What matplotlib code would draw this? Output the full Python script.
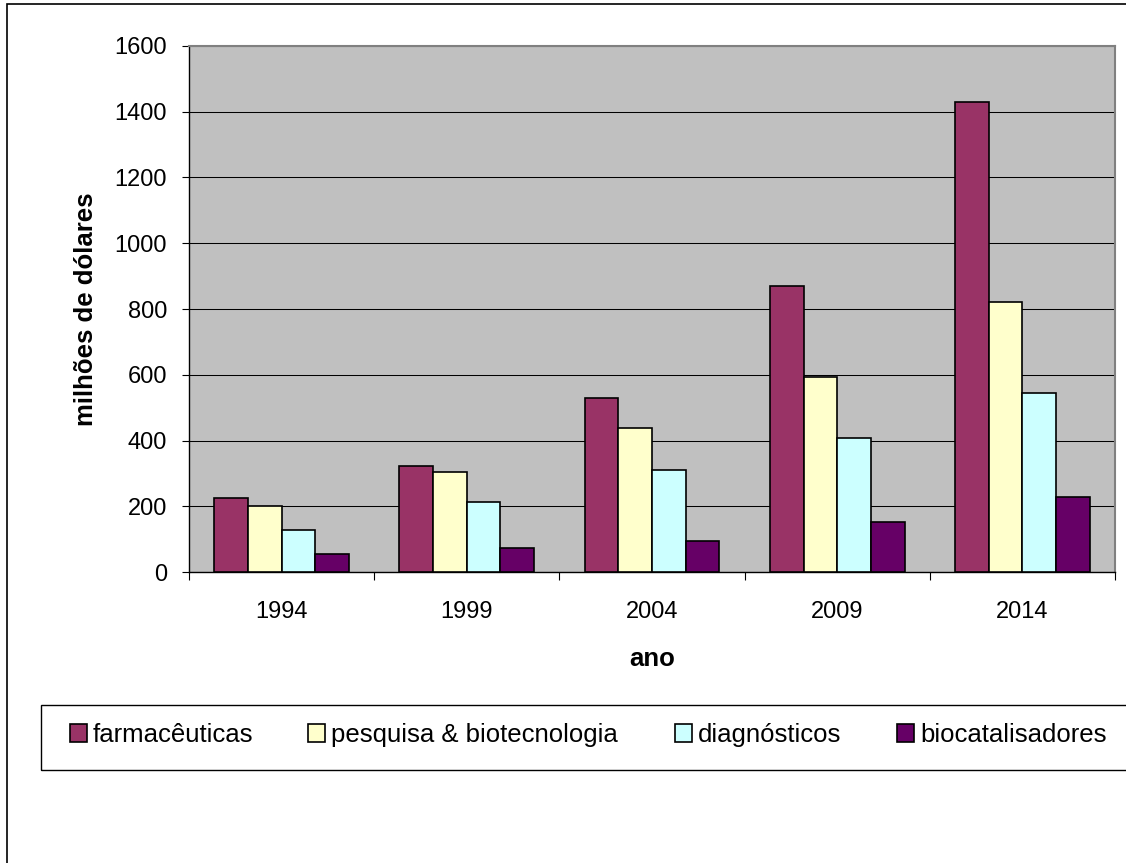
import matplotlib
matplotlib.use('Agg')
import matplotlib.pyplot as plt
from matplotlib.patches import Rectangle
import numpy as np

plt.rcParams['font.family'] = ['Liberation Sans', 'DejaVu Sans']

# ---- data ----
years = ['1994', '1999', '2004', '2009', '2014']
series_names = ['farmacêuticas', 'pesquisa & biotecnologia', 'diagnósticos', 'biocatalisadores']
farmaceuticas = [224, 321, 528, 870, 1430]
pesquisa = [200, 303, 437, 594, 820]
diagnosticos = [127, 212, 309, 407, 545]
biocatalisadores = [55, 72, 95, 151, 229]
yticks = [0, 200, 400, 600, 800, 1000, 1200, 1400, 1600]
colors = ['#993366', '#FFFFCC', '#CCFFFF', '#660066']

W, H = 1126, 863
fig = plt.figure(figsize=(W / 100, H / 100), dpi=100)
fig.patch.set_facecolor('white')

ax = fig.add_axes([189 / W, 1 - 572 / H, (1115 - 189) / W, (572 - 46) / H])
ax.set_facecolor('#C0C0C0')

x = np.arange(len(years))
w = 1 / 5.5
containers = []
for i, (vals, c, name) in enumerate(zip([farmaceuticas, pesquisa, diagnosticos, biocatalisadores],
                                         colors, series_names)):
    bc = ax.bar(x + (i - 1.5) * w, vals, w, color=c, edgecolor='black',
                linewidth=1.2, label=name, zorder=3)
    containers.append(bc)

ax.set_xlim(-0.5, len(years) - 0.5)
ax.set_ylim(0, 1600)
ax.set_yticks(yticks)
ax.yaxis.grid(True, color='black', linewidth=0.75)
ax.set_axisbelow(True)

ax.set_xticks(x)
ax.set_xticklabels(years)
ax.set_xticks(np.arange(-0.5, len(years), 1), minor=True)
ax.tick_params(axis='x', which='major', length=0, pad=21, labelsize=17)
ax.tick_params(axis='x', which='minor', length=5.5, width=0.8, direction='out')
ax.tick_params(axis='y', length=5, width=0.8, direction='out', pad=10.8, labelsize=17)

for s in ['top', 'right']:
    ax.spines[s].set_color('#808080')
    ax.spines[s].set_linewidth(1.5)
for s in ['left', 'bottom']:
    ax.spines[s].set_color('black')
    ax.spines[s].set_linewidth(1.0)

ax.set_xlabel('ano', fontsize=18.5, fontweight='bold')
ax.xaxis.label.set_verticalalignment('baseline')
ax.xaxis.set_label_coords(0.5, -(666 - 572) / 526)

ax.set_ylabel('milhões de dólares', fontsize=18.5, fontweight='bold')
ax.yaxis.label.set_verticalalignment('center')
ax.yaxis.set_label_coords((86 - 189) / 926, 0.5)

# legend entries
patch_x = [70, 308, 675, 897]
for h, name, px in zip(containers, series_names, patch_x):
    fig.legend([h], [name], loc='center left', bbox_to_anchor=(px / W, 1 - 735 / H),
               frameon=False, fontsize=18.5, handlelength=0.66, handleheight=0.66,
               handletextpad=0.23, borderpad=0, borderaxespad=0)

# legend frame
fig.add_artist(Rectangle((41 / W, 1 - 770 / H), 1.2, (770 - 705) / H,
                         transform=fig.transFigure, fill=False, edgecolor='black',
                         linewidth=1.0, clip_on=False))
# chart border
fig.add_artist(Rectangle((7 / W, -0.1), 1.2, (1 - 4 / H) + 0.1,
                         transform=fig.transFigure, fill=False, edgecolor='black',
                         linewidth=1.2, clip_on=False))

fig.savefig('out.png', dpi=100)
